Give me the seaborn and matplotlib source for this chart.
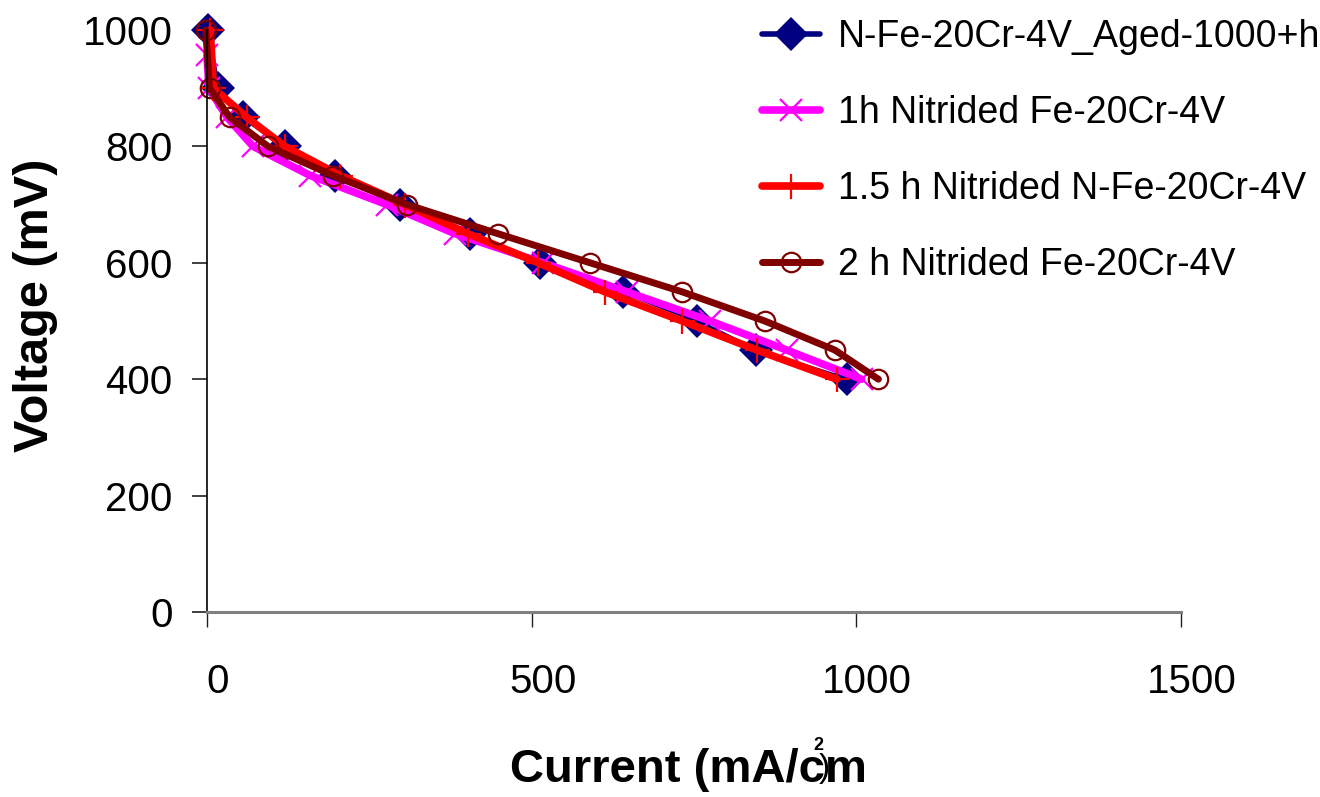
import matplotlib
matplotlib.use("Agg")
import matplotlib.pyplot as plt
from matplotlib.transforms import ScaledTranslation
import seaborn as sns
import pandas as pd

# ---- data ----
labels = ["N-Fe-20Cr-4V_Aged-1000+h", "1h Nitrided Fe-20Cr-4V",
          "1.5 h Nitrided N-Fe-20Cr-4V", "2 h Nitrided Fe-20Cr-4V"]

volt_aged = [1000, 900, 850, 800, 750, 700, 650, 600, 550, 500, 450, 400]
curr_aged = [2, 17, 55, 120, 197, 297, 405, 513, 641, 755, 845, 985]

volt_1h = [957, 900, 850, 800, 750, 700, 650, 600, 550, 500, 450, 400]
curr_1h = [0, 3, 31, 71, 159, 277, 382, 517, 647, 775, 893, 1008]

volt_15h = [1000, 900, 850, 800, 750, 700, 650, 600, 550, 500, 450, 400]
curr_15h = [5, 10, 61, 120, 205, 305, 402, 510, 613, 732, 847, 970]

volt_2h = [1000, 900, 850, 800, 750, 700, 650, 600, 550, 500, 450, 400]
curr_2h = [-2, 4, 35, 94, 194, 308, 448, 590, 732, 859, 967, 1034]

x_ticks = [0, 500, 1000, 1500]
y_ticks = [0, 200, 400, 600, 800, 1000]

series = [
    (labels[0], curr_aged, volt_aged),
    (labels[1], curr_1h, volt_1h),
    (labels[2], curr_15h, volt_15h),
    (labels[3], curr_2h, volt_2h),
]

styles = [
    dict(color="#000080", marker="D", markersize=17, lw=3.0,
         markerfacecolor="#000080", markeredgecolor="#000080", markeredgewidth=0),
    dict(color="#FF00FF", marker="x", markersize=16, lw=5.5,
         markeredgecolor="#FF00FF", markeredgewidth=1.6),
    dict(color="#FF0000", marker="+", markersize=18, lw=5.5,
         markeredgecolor="#FF0000", markeredgewidth=1.6),
    dict(color="#800000", marker="o", markersize=14, lw=5.0,
         markerfacecolor="none", markeredgecolor="#800000", markeredgewidth=1.6),
]

sns.set_style("white")
plt.rcParams["font.family"] = ["Liberation Sans", "DejaVu Sans"]
plt.rcParams["text.color"] = "black"
plt.rcParams["axes.labelcolor"] = "black"
plt.rcParams["xtick.color"] = "black"
plt.rcParams["ytick.color"] = "black"

W, H = 1320, 797
fig = plt.figure(figsize=(W / 100, H / 100), dpi=100)
ax = fig.add_axes([207 / W, 1 - 612 / H, (1181 - 207) / W, (612 - 30) / H])

for (lab, xs, ys), st in zip(series, styles):
    df = pd.DataFrame({"current": xs, "voltage": ys})
    sns.lineplot(data=df, x="current", y="voltage", ax=ax, sort=False,
                 estimator=None, label=lab, clip_on=False, **st)

ax.set_xlim(0, 1500)
ax.set_ylim(0, 1000)
ax.set_xticks(x_ticks)
ax.set_yticks(y_ticks)
ax.set_xticklabels([str(t) for t in x_ticks])
ax.set_yticklabels([str(t) for t in y_ticks])

for side in ["top", "right"]:
    ax.spines[side].set_visible(False)
ax.spines["left"].set_color("black")
ax.spines["left"].set_linewidth(1.2)
ax.spines["bottom"].set_color("#808080")
ax.spines["bottom"].set_linewidth(2.2)

ax.tick_params(axis="x", direction="out", length=10.8, width=1, color="#202020",
               pad=26, labelsize=29, bottom=True, labelcolor="black")
ax.tick_params(axis="y", direction="out", length=10.8, width=1.2, color="#202020",
               pad=14, labelsize=29, left=True, labelcolor="black")

shift = ScaledTranslation(11 / 100, 0, fig.dpi_scale_trans)
for lbl in ax.get_xticklabels():
    lbl.set_transform(lbl.get_transform() + shift)

ax.set_ylabel("Voltage (mV)", fontsize=35, fontweight="bold")
ax.yaxis.set_label_coords((36 - 207) / 974, (612 - 305) / 582)
ax.yaxis.label.set_verticalalignment("center")

ax.set_xlabel("Current (mA/cm", fontsize=34, fontweight="bold")
ax.xaxis.set_label_coords((688 - 207) / 974, (612 - 770) / 582)
ax.xaxis.label.set_verticalalignment("center")
fig.text(818 / W, 1 - 745 / H, "2", fontsize=13, fontweight="bold",
         ha="center", va="center")
fig.text(824 / W, 1 - 768 / H, ")", fontsize=24,
         ha="center", va="center")

leg = ax.legend(loc="upper left", bbox_to_anchor=(762 / W, 1 - 19 / H),
                bbox_transform=fig.transFigure, frameon=False, fontsize=27,
                handlelength=1.55, handletextpad=0.48, labelspacing=1.07,
                borderpad=0, borderaxespad=0)
leg.get_lines()[0].set_linewidth(4.0)

fig.savefig("out.png", dpi=100)
